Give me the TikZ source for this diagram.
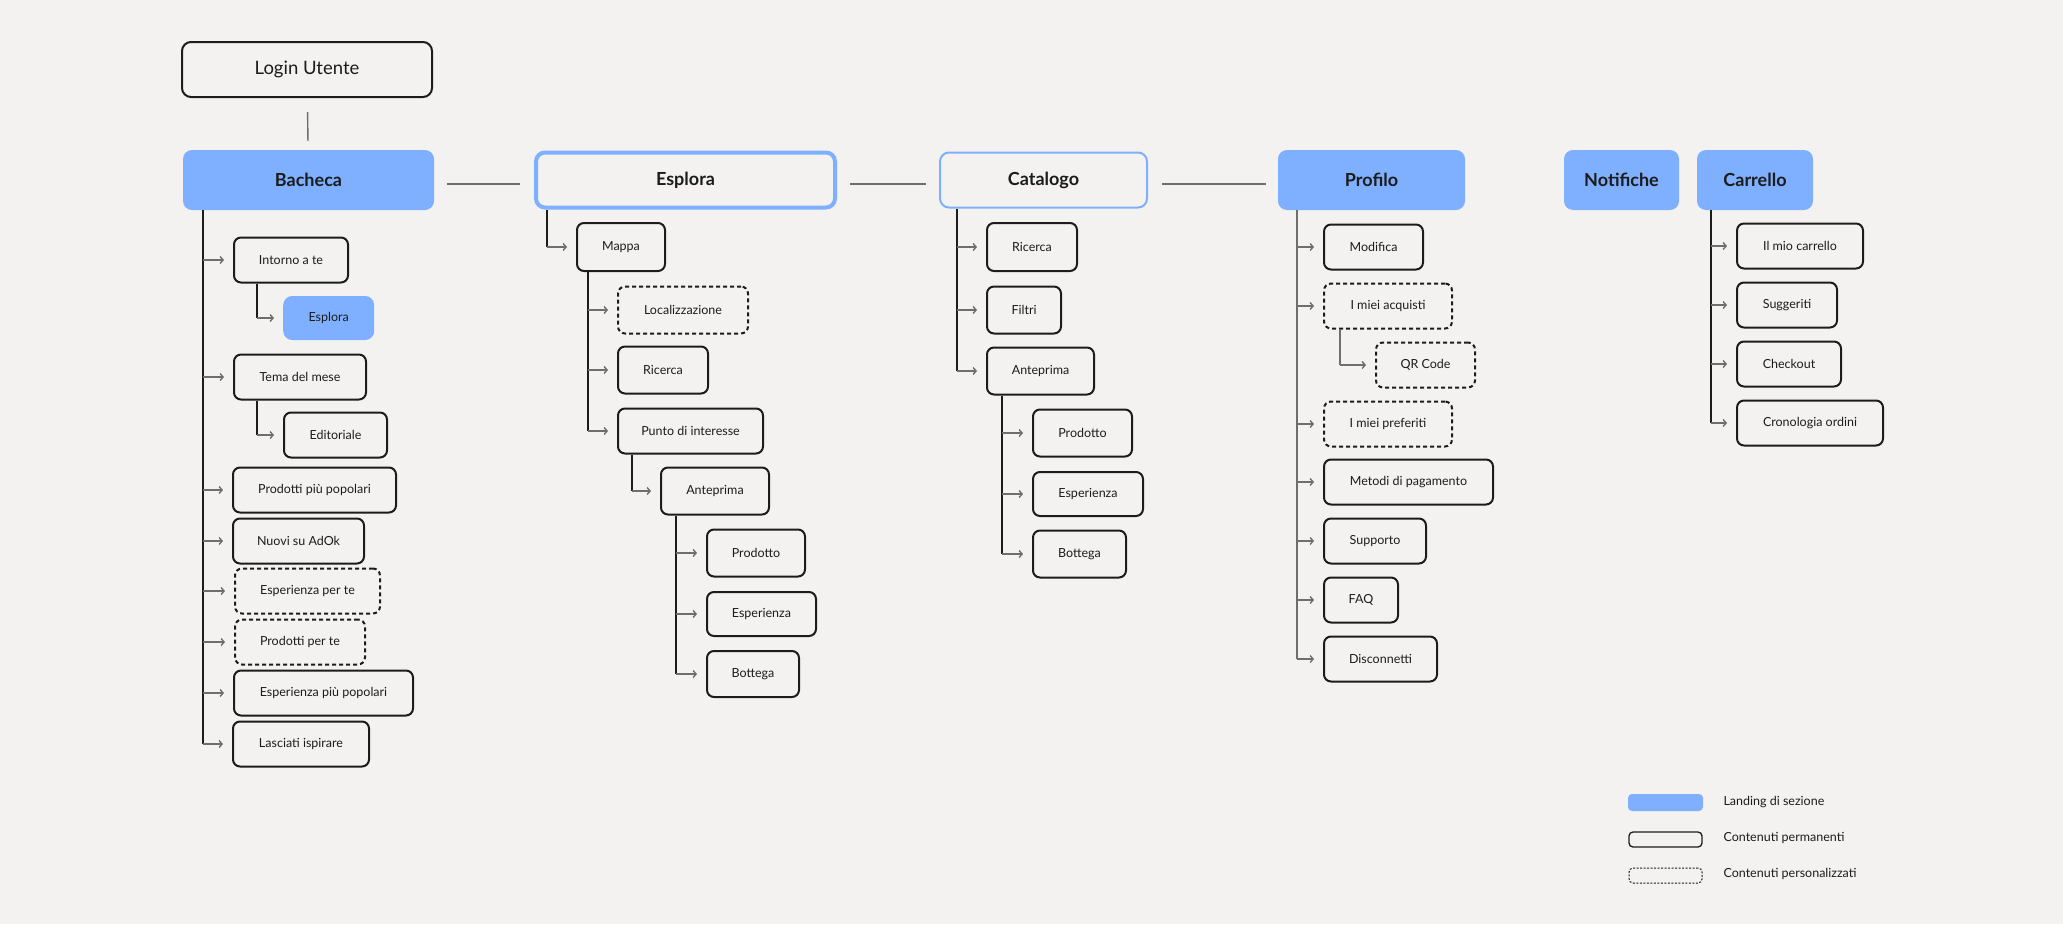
\documentclass[tikz,border=0pt]{standalone}
\usepackage{fontspec}
\setmainfont{Lato}
\usetikzlibrary{positioning,arrows.meta}

\definecolor{paper}{HTML}{F3F2F0}
\definecolor{landblue}{HTML}{7FB0FF}
\definecolor{ink}{HTML}{1C1C1C}
\definecolor{wire}{HTML}{6E6E6E}

\begin{document}
\begin{tikzpicture}[
  x=1pt, y=-1pt,
  land/.style={fill=landblue, rounded corners=9pt, minimum height=60pt,
               font=\fontsize{18}{20}\selectfont\bfseries, text=ink},
  hdout/.style={draw=landblue, fill=paper, rounded corners=9pt, minimum height=55pt,
               font=\fontsize{18}{20}\selectfont\bfseries, text=ink},
  perm/.style={draw=ink, line width=2pt, rounded corners=7pt, anchor=west,
               minimum height=45pt, font=\fontsize{12.5}{14}\selectfont, text=ink},
  pers/.style={perm, dash pattern=on 4pt off 3pt},
  sub/.style={land, anchor=west, minimum height=44pt,
              font=\fontsize{12.5}{14}\selectfont},
  arr/.style={-{Straight Barb[length=3pt,width=7pt]}, line width=1.4pt,
              draw=wire, shorten >=9pt},
  trunk/.style={line width=1.4pt, draw=ink},
  link/.style={line width=1.4pt, draw=wire},
  lgtxt/.style={anchor=west, font=\fontsize{12.5}{14}\selectfont, text=ink}
]

\fill[paper] (0,0) rectangle (2063,924);
\useasboundingbox (0,0) rectangle (2063,924);

%% ═══════════════════════════════════════════════
%% Top row: section landings
%% ═══════════════════════════════════════════════

\node[draw=ink, line width=2pt, rounded corners=9pt, minimum width=250pt,
      minimum height=55pt, font=\fontsize{18.5}{20}\selectfont, text=ink]
      (login) at (307,69.5) {Login Utente};

\node[land, minimum width=251pt]   (bacheca)  at (308.5,180)  {Bacheca};
\node[hdout, line width=4pt, minimum width=299pt] (esplora) at (685.5,180) {Esplora};
\node[hdout, line width=2pt, minimum width=207pt] (catalogo) at (1043.5,180) {Catalogo};
\node[land, minimum width=187pt]   (profilo)  at (1371.5,180) {Profilo};
\node[land, minimum width=115pt]   (notifiche) at (1621.5,180) {Notifiche};
\node[land, minimum width=116pt]   (carrello) at (1755,180)   {Carrello};

\draw[link, shorten <=14pt, shorten >=9pt] (login) -- (bacheca);
\draw[link, shorten <=13pt, shorten >=14pt]
     ([yshift=-4pt]bacheca.east) -- ([yshift=-4pt]esplora.west);
\draw[link, shorten <=13pt, shorten >=13pt]
     ([yshift=-4pt]esplora.east) -- ([yshift=-4pt]catalogo.west);
\draw[link, shorten <=14pt, shorten >=12pt]
     ([yshift=-4pt]catalogo.east) -- ([yshift=-4pt]profilo.west);

%% ═══════════════════════════════════════════════
%% Bacheca
%% ═══════════════════════════════════════════════

\node[perm, minimum width=114pt] (b_intorno)  at (233,260) {Intorno a te};
\node[sub,  minimum width=91pt]  (b_esplora)  at (283,318) {Esplora};
\node[perm, minimum width=132pt] (b_tema)     at (233,377) {Tema del mese};
\node[perm, minimum width=103pt] (b_edit)     at (283,435) {Editoriale};
\node[perm, minimum width=163pt] (b_prodpop)  at (232,490) {Prodotti più popolari};
\node[perm, minimum width=131pt] (b_nuovi)    at (232,541) {Nuovi su AdOk};
\node[pers, minimum width=145pt] (b_espte)    at (234,591) {Esperienza per te};
\node[pers, minimum width=130pt] (b_prodte)   at (234,642) {Prodotti per te};
\node[perm, minimum width=179pt] (b_esppop)   at (233,693) {Esperienza più popolari};
\node[perm, minimum width=136pt] (b_lasciati) at (232,744) {Lasciati ispirare};

\coordinate (b_t)  at ([xshift=20pt]bacheca.south west);
\coordinate (b_it) at ([xshift=24pt]b_intorno.south west);
\coordinate (b_tt) at ([xshift=24pt]b_tema.south west);

\draw[trunk] (b_t)  -- (b_t |- b_lasciati.west);
\draw[trunk] (b_it) -- (b_it |- b_esplora.west);
\draw[trunk] (b_tt) -- (b_tt |- b_edit.west);

\draw[arr] (b_t |- b_intorno.west)  -- (b_intorno.west);
\draw[arr] (b_it |- b_esplora.west) -- (b_esplora.west);
\draw[arr] (b_t |- b_tema.west)     -- (b_tema.west);
\draw[arr] (b_tt |- b_edit.west)    -- (b_edit.west);
\draw[arr] (b_t |- b_prodpop.west)  -- (b_prodpop.west);
\draw[arr] (b_t |- b_nuovi.west)    -- (b_nuovi.west);
\draw[arr] (b_t |- b_espte.west)    -- (b_espte.west);
\draw[arr] (b_t |- b_prodte.west)   -- (b_prodte.west);
\draw[arr] (b_t |- b_esppop.west)   -- (b_esppop.west);
\draw[arr] (b_t |- b_lasciati.west) -- (b_lasciati.west);

%% ═══════════════════════════════════════════════
%% Esplora
%% ═══════════════════════════════════════════════

\node[perm, minimum width=88pt, minimum height=48pt]  (e_mappa)   at (576,247) {Mappa};
\node[pers, minimum width=130pt, minimum height=47pt] (e_loc)     at (617,310) {Localizzazione};
\node[perm, minimum width=90pt, minimum height=47pt]  (e_ricerca) at (617,370) {Ricerca};
\node[perm, minimum width=145pt, minimum height=45pt] (e_punto)   at (617,431) {Punto di interesse};
\node[perm, minimum width=108pt, minimum height=47pt] (e_antep)   at (660,491) {Anteprima};
\node[perm, minimum width=98pt, minimum height=47pt]  (e_prod)    at (706,553) {Prodotto};
\node[perm, minimum width=109pt, minimum height=44pt] (e_esp)     at (706,614) {Esperienza};
\node[perm, minimum width=92pt, minimum height=46pt]  (e_bott)    at (706,674) {Bottega};

\coordinate (e_t)  at ([xshift=13pt]esplora.south west);
\coordinate (e_mt) at ([xshift=12pt]e_mappa.south west);
\coordinate (e_pt) at ([xshift=15pt]e_punto.south west);
\coordinate (e_at) at ([xshift=16pt]e_antep.south west);

\draw[trunk] (e_t)  -- (e_t |- e_mappa.west);
\draw[trunk] (e_mt) -- (e_mt |- e_punto.west);
\draw[trunk] (e_pt) -- (e_pt |- e_antep.west);
\draw[trunk] (e_at) -- (e_at |- e_bott.west);

\draw[arr] (e_t |- e_mappa.west)    -- (e_mappa.west);
\draw[arr] (e_mt |- e_loc.west)     -- (e_loc.west);
\draw[arr] (e_mt |- e_ricerca.west) -- (e_ricerca.west);
\draw[arr] (e_mt |- e_punto.west)   -- (e_punto.west);
\draw[arr] (e_pt |- e_antep.west)   -- (e_antep.west);
\draw[arr] (e_at |- e_prod.west)    -- (e_prod.west);
\draw[arr] (e_at |- e_esp.west)     -- (e_esp.west);
\draw[arr] (e_at |- e_bott.west)    -- (e_bott.west);

%% ═══════════════════════════════════════════════
%% Catalogo
%% ═══════════════════════════════════════════════

\node[perm, minimum width=90pt, minimum height=48pt]  (c_ricerca) at (986,247)  {Ricerca};
\node[perm, minimum width=74pt, minimum height=47pt]  (c_filtri)  at (986,310)  {Filtri};
\node[perm, minimum width=107pt, minimum height=47pt] (c_antep)   at (986,371)  {Anteprima};
\node[perm, minimum width=99pt, minimum height=47pt]  (c_prod)    at (1032,433) {Prodotto};
\node[perm, minimum width=110pt, minimum height=44pt] (c_esp)     at (1032,494) {Esperienza};
\node[perm, minimum width=93pt, minimum height=47pt]  (c_bott)    at (1032,554) {Bottega};

\coordinate (c_t)  at ([xshift=18pt]catalogo.south west);
\coordinate (c_at) at ([xshift=16pt]c_antep.south west);

\draw[trunk] (c_t)  -- (c_t |- c_antep.west);
\draw[trunk] (c_at) -- (c_at |- c_bott.west);

\draw[arr] (c_t |- c_ricerca.west) -- (c_ricerca.west);
\draw[arr] (c_t |- c_filtri.west)  -- (c_filtri.west);
\draw[arr] (c_t |- c_antep.west)   -- (c_antep.west);
\draw[arr] (c_at |- c_prod.west)   -- (c_prod.west);
\draw[arr] (c_at |- c_esp.west)    -- (c_esp.west);
\draw[arr] (c_at |- c_bott.west)   -- (c_bott.west);

%% ═══════════════════════════════════════════════
%% Profilo
%% ═══════════════════════════════════════════════

\node[perm, minimum width=99pt]  (p_modifica)  at (1323,247) {Modifica};
\node[pers, minimum width=128pt] (p_acquisti)  at (1323,306) {I miei acquisti};
\node[pers, minimum width=99pt]  (p_qr)        at (1375,365) {QR Code};
\node[pers, minimum width=128pt] (p_preferiti) at (1323,424) {I miei preferiti};
\node[perm, minimum width=169pt] (p_metodi)    at (1323,482) {Metodi di pagamento};
\node[perm, minimum width=102pt] (p_supporto)  at (1323,541) {Supporto};
\node[perm, minimum width=74pt]  (p_faq)       at (1323,600) {FAQ};
\node[perm, minimum width=113pt] (p_disc)      at (1323,659) {Disconnetti};

\coordinate (p_t)  at ([xshift=19pt]profilo.south west);
\coordinate (p_qt) at ([xshift=17pt]p_acquisti.south west);

\draw[link] (p_t)  -- (p_t |- p_disc.west);
\draw[link] (p_qt) -- (p_qt |- p_qr.west);

\draw[arr] (p_t |- p_modifica.west)  -- (p_modifica.west);
\draw[arr] (p_t |- p_acquisti.west)  -- (p_acquisti.west);
\draw[arr] (p_qt |- p_qr.west)       -- (p_qr.west);
\draw[arr] (p_t |- p_preferiti.west) -- (p_preferiti.west);
\draw[arr] (p_t |- p_metodi.west)    -- (p_metodi.west);
\draw[arr] (p_t |- p_supporto.west)  -- (p_supporto.west);
\draw[arr] (p_t |- p_faq.west)       -- (p_faq.west);
\draw[arr] (p_t |- p_disc.west)      -- (p_disc.west);

%% ═══════════════════════════════════════════════
%% Carrello
%% ═══════════════════════════════════════════════

\node[perm, minimum width=126pt] (k_mio)     at (1736,246) {Il mio carrello};
\node[perm, minimum width=100pt] (k_sugg)    at (1736,305) {Suggeriti};
\node[perm, minimum width=104pt] (k_check)   at (1736,364) {Checkout};
\node[perm, minimum width=146pt] (k_crono)   at (1736,423) {Cronologia ordini};

\coordinate (k_t) at ([xshift=14pt]carrello.south west);

\draw[trunk] (k_t) -- (k_t |- k_crono.west);

\draw[arr] (k_t |- k_mio.west)   -- (k_mio.west);
\draw[arr] (k_t |- k_sugg.west)  -- (k_sugg.west);
\draw[arr] (k_t |- k_check.west) -- (k_check.west);
\draw[arr] (k_t |- k_crono.west) -- (k_crono.west);

%% ── legend ──────────────────────────────────────────────────────────────
\node[fill=landblue, rounded corners=4pt, minimum width=75pt, minimum height=17pt]
      (lg_land) at (1665.5,802.5) {};
\node[draw=ink, line width=1.3pt, rounded corners=4pt, minimum width=73pt,
      minimum height=15pt] (lg_perm) at (1665.5,839.5) {};
\node[draw=ink, line width=1pt, dash pattern=on 2pt off 1.5pt, rounded corners=4pt,
      minimum width=73pt, minimum height=15pt] (lg_pers) at (1665.5,875.5) {};

\node[lgtxt] (lg_land_t) at (1720,802) {Landing di sezione};
\node[lgtxt] (lg_perm_t) at (1720,838) {Contenuti permanenti};
\node[lgtxt] (lg_pers_t) at (1720,874) {Contenuti personalizzati};

\end{tikzpicture}
\end{document}
